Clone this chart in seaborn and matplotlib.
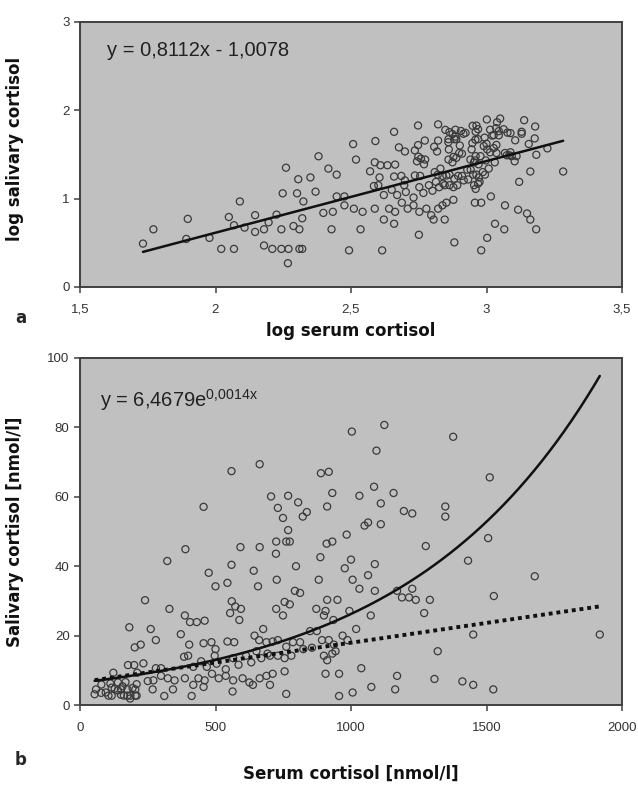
import numpy as np
import pandas as pd
import matplotlib
matplotlib.use("Agg")
import matplotlib.pyplot as plt
import seaborn as sns

# ---- data: serum vs salivary cortisol, nmol/l ----
serum = [54, 59, 79, 78, 95, 105, 112, 117, 117, 123, 128, 140, 140, 151, 151, 157, 162, 168, 175, 177,
         175, 182, 185, 186, 194, 200, 202, 204, 204, 209, 209, 211, 224, 234, 240, 250,
         322, 389, 592, 663, 723, 475, 500, 544, 559, 641, 657,
         330, 387, 406, 431, 460, 560, 573, 554, 588, 594,
         261, 280, 372, 403, 456, 485, 500, 544, 569, 644, 676, 661, 688,
         280, 299, 384, 399, 418, 447, 468, 497, 504, 538, 565, 585, 613, 632, 651, 669, 701,
         271, 299, 324, 349, 387, 418, 437, 460, 487, 512, 538, 565, 600, 625, 663, 688,
         268, 311, 343, 412, 456, 563, 638, 701,
         761, 724, 774, 910, 931,
         797, 887, 726, 881, 977, 1000, 1088, 1063, 1006, 1031, 1088, 1276,
         793, 812, 755, 774, 724, 749, 872, 912, 906, 950, 900, 935, 994, 1073, 1019, 1170, 1188, 1214, 1239, 1226, 1291, 1270,
         711, 730, 761, 786, 812, 849, 874, 893, 918, 937, 969, 987,
         692, 730, 755, 780, 824, 856, 900, 931, 943, 912,
         711, 755, 906, 956, 1038, 1170, 1308, 1320,
         761, 956, 1006, 1075, 1163,
         1003, 1123, 1094, 1377, 889, 918, 931, 1085, 1031, 1157, 1110, 912, 705, 768, 805, 730, 749, 822, 837,
         1195, 1226, 1348, 1348, 1050, 1063, 1110, 984, 768,
         559, 663, 456,
         1512, 1506, 1432, 1678, 1527, 1451, 1918, 1411, 1451, 1525]
saliva = [3.1, 4.5, 5.9, 3.5, 3.6, 2.7, 6.2, 5.0, 2.7, 9.3, 4.7, 6.5, 4.2, 2.95, 4.5, 5.4, 2.7, 6.6, 4.5, 11.5,
          2.7, 22.4, 1.86, 2.7, 4.9, 11.5, 16.6, 4.5, 2.7, 2.7, 6.0, 9.3, 17.4, 12.0, 30.2, 6.9,
          41.5, 44.9, 45.5, 45.5, 43.6, 38.1, 34.2, 35.2, 40.4, 38.7, 34.2,
          27.7, 25.8, 23.9, 23.9, 24.3, 29.9, 28.4, 26.5, 24.5, 27.7,
          21.9, 18.7, 20.4, 17.4, 17.8, 18.1, 16.1, 18.3, 18.1, 20.0, 21.9, 18.7, 18.1,
          10.6, 10.6, 13.9, 14.2, 11.0, 12.6, 11.0, 14.2, 11.9, 10.3, 13.5, 11.6, 14.2, 12.3, 15.5, 13.5, 14.2,
          7.1, 8.4, 7.7, 7.1, 7.7, 5.8, 7.7, 7.1, 9.0, 7.7, 8.4, 7.1, 7.7, 6.5, 7.7, 8.4,
          4.5, 2.6, 4.5, 2.6, 5.2, 3.9, 5.8, 5.8,
          47.1, 47.1, 47.1, 46.5, 47.1,
          40.0, 42.6, 36.1, 36.1, 39.4, 41.9, 40.6, 37.4, 36.1, 33.5, 32.9, 45.8,
          32.9, 32.3, 29.7, 29.0, 27.7, 25.8, 27.7, 30.3, 27.1, 30.3, 25.8, 24.5, 27.1, 25.8, 21.9, 32.9, 31.0, 31.0, 30.3, 33.5, 30.3, 26.5,
          18.3, 18.7, 16.8, 18.1, 18.1, 21.3, 21.3, 18.7, 18.7, 17.4, 20.0, 18.7,
          14.8, 14.2, 13.5, 14.2, 16.1, 16.5, 14.2, 14.8, 15.5, 12.9,
          9.0, 9.7, 9.0, 9.0, 10.6, 8.4, 7.5, 15.5,
          3.2, 2.6, 3.6, 5.2, 4.5,
          78.8, 80.7, 73.3, 77.3, 66.8, 67.2, 61.1, 62.9, 60.3, 61.1, 58.1, 57.2, 60.1, 60.3, 58.4, 56.8, 53.9, 54.3, 55.6,
          55.9, 55.2, 57.2, 54.3, 51.7, 52.6, 52.1, 49.1, 50.4,
          67.4, 69.4, 57.1,
          65.6, 48.1, 41.6, 37.1, 31.4, 20.3, 20.3, 6.8, 5.8, 4.5]

# trend lines (parameters as printed / read)
lin_log_slope, lin_log_icpt = 0.8112, -1.0078      # panel a
exp_a, exp_b = 6.4679, 0.0014                      # panel b solid
lin_slope, lin_icpt = 0.0114, 6.55                 # panel b dotted

a_xticks = [1.5, 2, 2.5, 3, 3.5]
a_xlabels = ["1,5", "2", "2,5", "3", "3,5"]
a_yticks = [0, 1, 2, 3]
b_xticks = [0, 500, 1000, 1500, 2000]
b_yticks = [0, 20, 40, 60, 80, 100]

df = pd.DataFrame({"serum": serum, "saliva": saliva})
df["log_serum"] = np.log10(df["serum"])
df["log_saliva"] = np.log10(df["saliva"])

sns.set_style("white")
plt.rcParams["font.family"] = ["Liberation Sans", "DejaVu Sans"]

W, H = 638, 785
fig = plt.figure(figsize=(W / 100, H / 100), dpi=100)

def frac(l, t, r, b):
    return [l / W, 1 - b / H, (r - l) / W, (b - t) / H]

A_T, A_B = 22, 287
B_T, B_B = 358, 705
axa = fig.add_axes(frac(80, A_T, 622, A_B))
axb = fig.add_axes(frac(80, B_T, 622, B_B))

bg = "#c0c0c0"
mk = dict(facecolor="none", edgecolor="#3a3a3a", s=26, linewidth=0.9, marker="o", zorder=3)
lab = dict(fontsize=12, fontweight="bold", color="#111111", family="DejaVu Sans")

for ax in (axa, axb):
    ax.set_facecolor(bg)
    for sp in ax.spines.values():
        sp.set_color("#404040")
        sp.set_linewidth(1.4)
    ax.tick_params(axis="both", direction="out", length=4, width=1.1, color="#404040",
                   labelsize=9.5, labelcolor="#333333", left=True, bottom=True)
    ax.tick_params(axis="x", pad=8)

# panel a
sns.scatterplot(data=df, x="log_serum", y="log_saliva", ax=axa, **mk)
xa = np.linspace(df["log_serum"].min(), df["log_serum"].max(), 50)
sns.lineplot(x=xa, y=lin_log_slope * xa + lin_log_icpt, ax=axa, color="#111111", linewidth=1.8, zorder=4)
axa.set_xlim(1.5, 3.5)
axa.set_ylim(0, 3)
axa.set_xticks(a_xticks)
axa.set_xticklabels(a_xlabels)
axa.set_yticks(a_yticks)
axa.set_xlabel("log serum cortisol", **lab)
axa.set_ylabel("log salivary cortisol", **lab)
axa.xaxis.set_label_coords(0.5, (A_B - 322) / (A_B - A_T))
axa.yaxis.set_label_coords((24 - 80) / 542, 0.52)
axa.text(0.05, (A_B - 50) / (A_B - A_T), "y = 0,8112x - 1,0078", transform=axa.transAxes, fontsize=14.5,
         color="#222222", va="center", ha="left")

# panel b
sns.scatterplot(data=df, x="serum", y="saliva", ax=axb, **mk)
xb = np.linspace(df["serum"].min(), df["serum"].max(), 200)
sns.lineplot(x=xb, y=exp_a * np.exp(exp_b * xb), ax=axb, color="#111111", linewidth=1.8, zorder=4)
axb.plot(xb, lin_slope * xb + lin_icpt, color="#111111", linewidth=2.8,
         linestyle=(0, (1.0, 1.0)), zorder=4)
axb.set_xlim(0, 2000)
axb.set_ylim(0, 100)
axb.set_xticks(b_xticks)
axb.set_yticks(b_yticks)
axb.set_xlabel("Serum cortisol [nmol/l]", **lab)
axb.set_ylabel("Salivary cortisol [nmol/l]", **lab)
axb.xaxis.set_label_coords(0.5, (B_B - 765) / (B_B - B_T))
axb.yaxis.set_label_coords((24 - 80) / 542, 0.5)
axb.text(0.037, (B_B - 400) / (B_B - B_T), r"y = 6,4679e$^{\mathregular{0{,}0014x}}$", transform=axb.transAxes,
         fontsize=14.5, color="#222222", va="center", ha="left")

fig.text(15 / W, 1 - 318 / H, "a", fontsize=12, fontweight="bold", va="center", family="DejaVu Sans")
fig.text(15 / W, 1 - 760 / H, "b", fontsize=12, fontweight="bold", va="center", family="DejaVu Sans")

fig.savefig("out.png", dpi=100, facecolor="white")
